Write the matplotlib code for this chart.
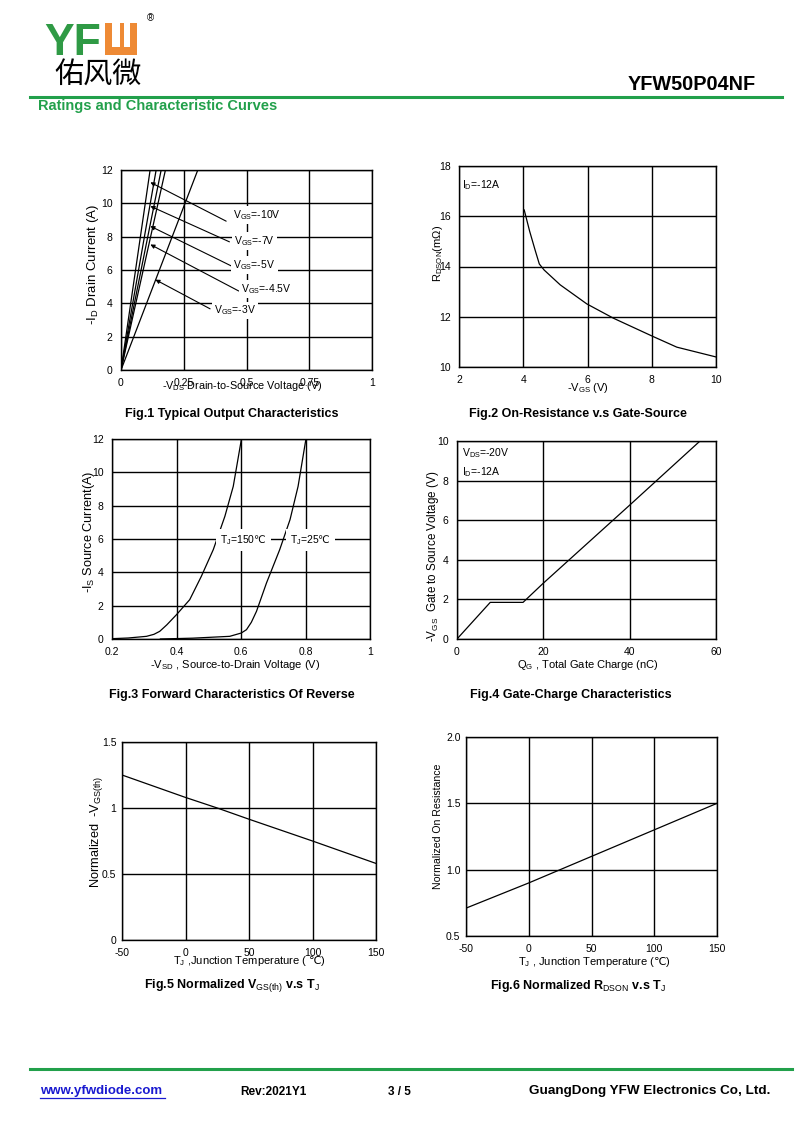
import matplotlib
matplotlib.use('Agg')
import matplotlib.pyplot as plt
from matplotlib.patches import Rectangle
from matplotlib.lines import Line2D

plt.rcParams['font.family'] = ['Liberation Sans', 'DejaVu Sans', 'Noto Sans CJK SC']
plt.rcParams['mathtext.fontset'] = 'custom'
plt.rcParams['mathtext.rm'] = 'Liberation Sans'
plt.rcParams['mathtext.it'] = 'Liberation Sans'
plt.rcParams['mathtext.sf'] = 'DejaVu Sans'
plt.rcParams['mathtext.default'] = 'rm'

# ---- data ----
# Fig.1 output characteristics: -VDS where each curve reaches -12 A (lines from origin)
vgs_labels = ['-10V', '-7V', '-5V', '-4.5V', '-3V']
vds_at_12a = [0.116, 0.140, 0.160, 0.177, 0.306]
id_end = [0, 12]

# Fig.2 RDSON vs -VGS
vgs2 = [4.03, 4.2, 4.37, 4.5, 4.65, 5.15, 5.98, 6.81, 8.03, 8.78, 10.0]
rdson2 = [16.25, 15.4, 14.65, 14.1, 13.86, 13.27, 12.51, 11.94, 11.22, 10.79, 10.4]

# Fig.3 body diode forward
vsd_150 = [0.20, 0.25, 0.307, 0.33, 0.348, 0.37, 0.40, 0.441, 0.477, 0.514, 0.55, 0.576, 0.601]
is_150 = [0.02, 0.06, 0.16, 0.28, 0.46, 0.85, 1.46, 2.36, 3.76, 5.36, 7.36, 9.16, 11.96]
vsd_25 = [0.35, 0.45, 0.565, 0.601, 0.617, 0.632, 0.648, 0.679, 0.72, 0.752, 0.777, 0.801]
is_25 = [0.0, 0.05, 0.16, 0.36, 0.56, 1.0, 1.66, 3.36, 5.36, 7.16, 9.16, 11.96]

# Fig.4 gate charge
qg = [0, 7.7, 15.3, 19.9, 40.0, 56.3]
vgs4 = [0, 1.85, 1.85, 2.8, 6.76, 10.0]

# Fig.5 normalized VGS(th)
tj5 = [-50, 0, 25, 50, 100, 150]
vth5 = [1.25, 1.08, 1.0, 0.915, 0.75, 0.58]

# Fig.6 normalized RDSON
tj6 = [-50, 0, 25, 50, 100, 150]
ron6 = [0.71, 0.90, 1.0, 1.10, 1.30, 1.50]

W, H = 800, 1131
GREEN = '#22a04b'
ORANGE = '#ee8a35'
DEG = r'$\mathsf{℃}$'
fig = plt.figure(figsize=(8, 11.31), dpi=100)


def fx(x):
    return x / W


def fy(y):
    return 1 - y / H


def add_ax(l, t, r, b):
    ax = fig.add_axes([l / W, 1 - b / H, (r - l) / W, (b - t) / H])
    ax._box = (l, t, r, b)
    return ax


def rect(x0, y0, x1, y1, color, z):
    fig.patches.append(Rectangle((fx(x0), fy(y1)), (x1 - x0) / W, (y1 - y0) / H,
                                 transform=fig.transFigure, color=color, zorder=z, lw=0))


def style(ax, xlim, ylim, xt, yt, xtl, ytl, xpad=6, ypad=6):
    ax.set_xlim(*xlim)
    ax.set_ylim(*ylim)
    ax.set_xticks(xt)
    ax.set_yticks(yt)
    ax.set_xticklabels(xtl)
    ax.set_yticklabels(ytl)
    ax.tick_params(axis='x', length=0, pad=xpad, labelsize=7.5)
    ax.tick_params(axis='y', length=0, pad=ypad, labelsize=7.5)
    ax.grid(True, color='black', lw=1.0)
    ax.set_axisbelow(True)
    for s in ax.spines.values():
        s.set_linewidth(1.0)


def labels(ax, xlabel, xpos, xsize, ylabel, ypos, ysize):
    l, t, r, b = ax._box
    ax.set_xlabel(xlabel, fontsize=xsize, va='center')
    ax.xaxis.set_label_coords((xpos[0] - l) / (r - l), (b - xpos[1]) / (b - t))
    ax.set_ylabel(ylabel, fontsize=ysize, va='center')
    ax.yaxis.set_label_coords((ypos[0] - l) / (r - l), (b - ypos[1]) / (b - t))


def title(x, y, s):
    fig.text(fx(x), fy(y), s, ha='center', va='center', fontsize=9, fontweight='bold')


# ---- header ----
fig.text(fx(44), fy(55), 'YF', color='#2f9a45', fontsize=32, fontweight='bold', va='baseline')
rect(105, 23, 137, 55, ORANGE, 2)
rect(112, 23, 120, 47, 'white', 3)
rect(124, 23, 130, 47, 'white', 3)
rect(120, 27, 124, 47, ORANGE, 4)
fig.text(fx(150), fy(18), '®', fontsize=7, ha='center', va='center')
fig.text(fx(54), fy(76), '佑风微', fontsize=21, family=['Noto Sans CJK SC'], va='center')
fig.add_artist(Line2D([fx(30), fx(782)], [fy(97), fy(97)], color=GREEN, lw=2.2))
fig.text(fx(756), fy(85), 'YFW50P04NF', fontsize=14.3, fontweight='bold', ha='right', va='center')
fig.text(fx(38), fy(106), 'Ratings and Characteristic Curves', fontsize=10.5, fontweight='bold',
         color=GREEN, va='center')

# ---- footer ----
fig.add_artist(Line2D([fx(30), fx(792)], [fy(1069), fy(1069)], color=GREEN, lw=2.2))
fig.text(fx(40), fy(1091), 'www.yfwdiode.com', fontsize=9.5, fontweight='bold', color='#1a1ad0',
         va='center')
fig.add_artist(Line2D([fx(40), fx(165)], [fy(1098), fy(1098)], color='#1a1ad0', lw=0.9))
fig.text(fx(240), fy(1092), 'Rev:2021Y1', fontsize=8.5, fontweight='bold', va='center')
fig.text(fx(388), fy(1092), '3 / 5', fontsize=8.5, fontweight='bold', va='center')
fig.text(fx(770), fy(1091), 'GuangDong YFW Electronics Co, Ltd.', fontsize=9.7, fontweight='bold',
         ha='right', va='center')

box = dict(facecolor='white', edgecolor='none', pad=1.5)

# ---- Fig.1 ----
ax1 = add_ax(121, 170, 372, 370)
style(ax1, (0, 1), (0, 12), [0, 0.25, 0.5, 0.75, 1], range(0, 13, 2),
      ['0', '0.25', '0.5', '0.75', '1'], [str(v) for v in range(0, 13, 2)])
for v in vds_at_12a:
    ax1.plot([0, v], id_end, color='black', lw=0.9)
tips = [(0.117, 11.26), (0.117, 9.83), (0.117, 8.63), (0.117, 7.53), (0.137, 5.42)]
tails = [(0.419, 8.93), (0.432, 7.69), (0.448, 6.18), (0.469, 4.74), (0.355, 3.67)]
lab_pos = [(0.445, 9.3), (0.452, 7.75), (0.448, 6.3), (0.479, 4.88), (0.372, 3.57)]
for lab, tip, tail, lp in zip(vgs_labels, tips, tails, lab_pos):
    ax1.text(lp[0], lp[1], 'V$_{GS}$=' + lab, fontsize=7.5, va='center', ha='left', bbox=box, zorder=5)
    ax1.annotate('', xy=tip, xytext=tail,
                 arrowprops=dict(arrowstyle='-|>', color='black', lw=0.8, mutation_scale=6,
                                 shrinkA=0, shrinkB=0), zorder=4)
labels(ax1, '-V$_{DS}$ Drain-to-Source Voltage (V)', (242, 386), 7.8,
       '-I$_D$ Drain Current (A)', (93, 265), 9.5)
title(232, 414, 'Fig.1 Typical Output Characteristics')

# ---- Fig.2 ----
ax2 = add_ax(459, 166, 716, 367)
style(ax2, (2, 10), (10, 18), range(2, 11, 2), range(10, 19, 2),
      [str(v) for v in range(2, 11, 2)], [str(v) for v in range(10, 19, 2)])
ax2.plot(vgs2, rdson2, color='black', lw=0.9)
ax2.text(2.1, 17.25, 'I$_D$=-12A', fontsize=7.5, va='center', ha='left')
labels(ax2, '-V$_{GS}$ (V)', (588, 388), 8, 'R$_{DSON}$(mΩ)', (438, 253), 8)
title(578, 414, 'Fig.2 On-Resistance v.s Gate-Source')

# ---- Fig.3 ----
ax3 = add_ax(112, 439, 370, 639)
style(ax3, (0.2, 1), (0, 12), [0.2, 0.4, 0.6, 0.8, 1], range(0, 13, 2),
      ['0.2', '0.4', '0.6', '0.8', '1'], [str(v) for v in range(0, 13, 2)])
ax3.plot(vsd_150, is_150, color='black', lw=0.9)
ax3.plot(vsd_25, is_25, color='black', lw=0.9)
ax3.text(0.534, 5.96, 'T$_J$=150' + DEG, fontsize=7.5, va='center', ha='left',
         bbox=dict(facecolor='white', edgecolor='none', pad=3), zorder=5)
ax3.text(0.751, 5.96, 'T$_J$=25' + DEG, fontsize=7.5, va='center', ha='left',
         bbox=dict(facecolor='white', edgecolor='none', pad=3), zorder=5)
labels(ax3, '-V$_{SD}$ , Source-to-Drain Voltage (V)', (235, 665), 8,
       '-I$_S$ Source Current(A)', (89, 532), 9.2)
title(232, 695, 'Fig.3 Forward Characteristics Of Reverse')

# ---- Fig.4 ----
ax4 = add_ax(457, 441, 716, 639)
style(ax4, (0, 60), (0, 10), [0, 20, 40, 60], range(0, 11, 2),
      ['0', '20', '40', '60'], [str(v) for v in range(0, 11, 2)])
ax4.plot(qg, vgs4, color='black', lw=0.9)
ax4.text(1.2, 9.4, 'V$_{DS}$=-20V', fontsize=7.5, va='center', ha='left')
ax4.text(1.2, 8.45, 'I$_D$=-12A', fontsize=7.5, va='center', ha='left')
labels(ax4, 'Q$_G$ , Total Gate Charge (nC)', (588, 665), 8,
       '-V$_{GS}$  Gate to Source Voltage (V)', (433, 556), 8.4)
title(571, 695, 'Fig.4 Gate-Charge Characteristics')

# ---- Fig.5 ----
ax5 = add_ax(122, 742, 376, 940)
style(ax5, (-50, 150), (0, 1.5), [-50, 0, 50, 100, 150], [0, 0.5, 1, 1.5],
      ['-50', '0', '50', '100', '150'], ['0', '0.5', '1', '1.5'], ypad=4)
ax5.plot(tj5, vth5, color='black', lw=0.9)
labels(ax5, 'T$_J$ ,Junction Temperature ( ' + DEG + ')', (249, 961), 8,
       'Normalized  -V$_{GS(th)}$', (97, 832), 9.2)
title(232, 986, 'Fig.5 Normalized V$_{GS(th)}$ v.s T$_J$')

# ---- Fig.6 ----
ax6 = add_ax(466, 737, 717, 936)
style(ax6, (-50, 150), (0.5, 2.0), [-50, 0, 50, 100, 150], [0.5, 1.0, 1.5, 2.0],
      ['-50', '0', '50', '100', '150'], ['0.5', '1.0', '1.5', '2.0'], ypad=4)
ax6.plot(tj6, ron6, color='black', lw=0.9)
labels(ax6, 'T$_J$ , Junction Temperature (' + DEG + ')', (594, 962), 8,
       'Normalized On Resistance', (438, 826), 7.6)
title(578, 986, 'Fig.6 Normalized R$_{DSON}$ v.s T$_J$')

fig.savefig('out.png', dpi=100, facecolor='white')
